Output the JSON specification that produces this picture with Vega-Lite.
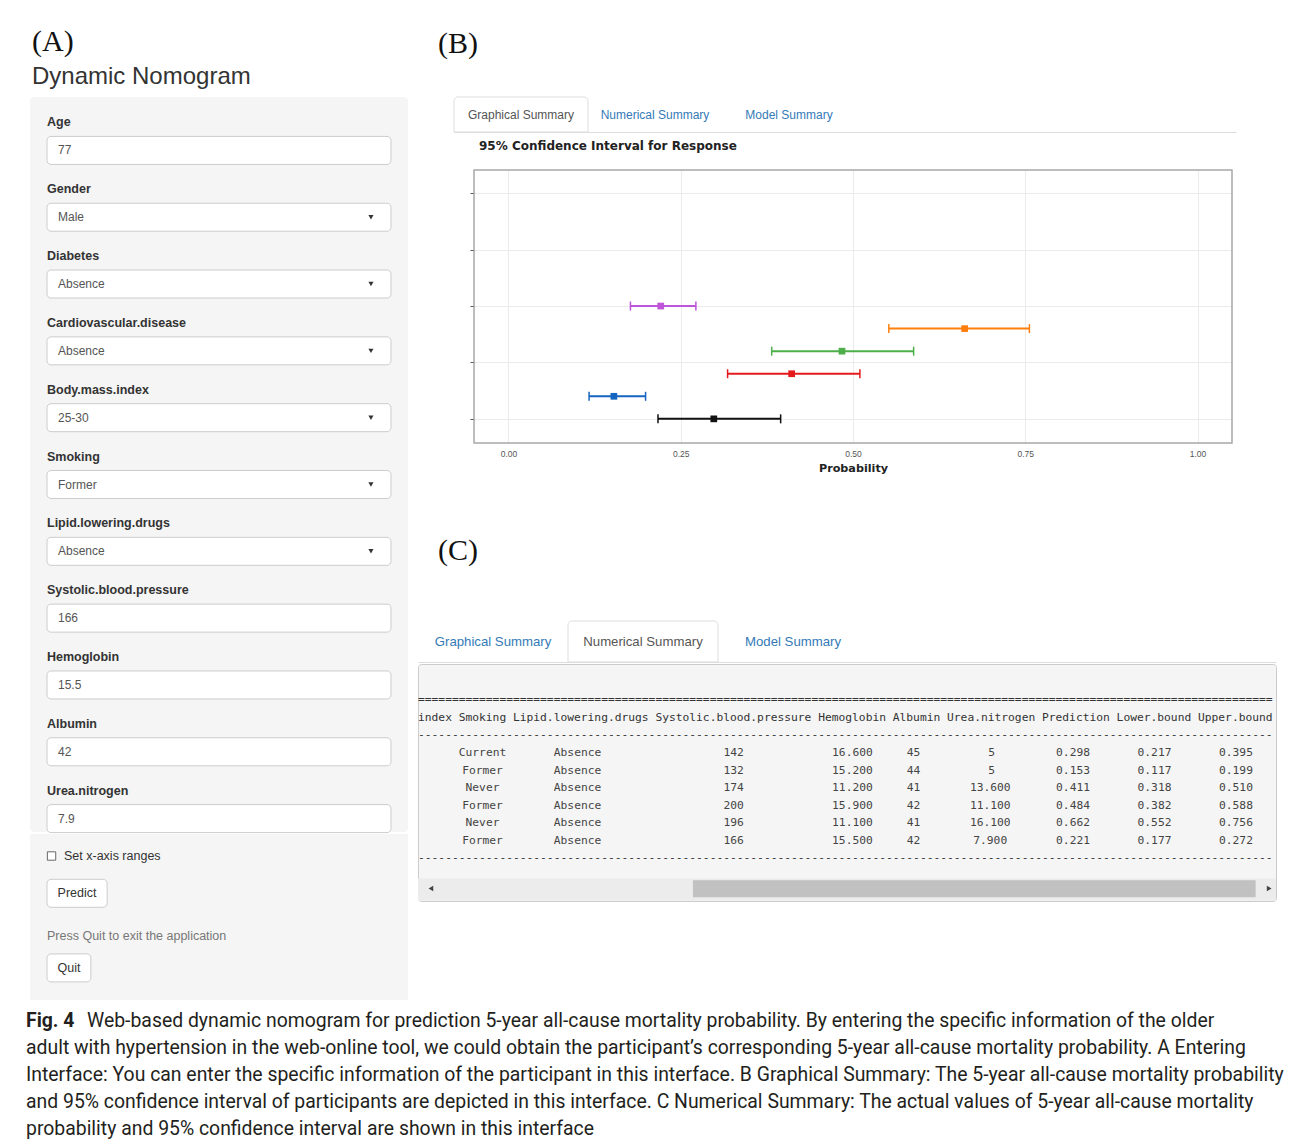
{
  "$schema": "https://vega.github.io/schema/vega-lite/v6.json",
  "background": "white",
  "padding": {"left": 26, "top": 27, "right": 0, "bottom": 0},
  "config": {
    "view": {"stroke": null},
    "text": {"font": "Liberation Sans"},
    "axis": {"labelFont": "Liberation Sans", "titleFont": "Liberation Sans"}
  },
  "datasets": {
    "pred": [
      {"index": 1, "Smoking": "Current", "Lipid": "Absence", "SBP": 142, "Hemoglobin": 16.6, "Albumin": 45, "Urea": 5, "Prediction": 0.298, "Lower": 0.217, "Upper": 0.395},
      {"index": 2, "Smoking": "Former", "Lipid": "Absence", "SBP": 132, "Hemoglobin": 15.2, "Albumin": 44, "Urea": 5, "Prediction": 0.153, "Lower": 0.117, "Upper": 0.199},
      {"index": 3, "Smoking": "Never", "Lipid": "Absence", "SBP": 174, "Hemoglobin": 11.2, "Albumin": 41, "Urea": 13.6, "Prediction": 0.411, "Lower": 0.318, "Upper": 0.510},
      {"index": 4, "Smoking": "Former", "Lipid": "Absence", "SBP": 200, "Hemoglobin": 15.9, "Albumin": 42, "Urea": 11.1, "Prediction": 0.484, "Lower": 0.382, "Upper": 0.588},
      {"index": 5, "Smoking": "Never", "Lipid": "Absence", "SBP": 196, "Hemoglobin": 11.1, "Albumin": 41, "Urea": 16.1, "Prediction": 0.662, "Lower": 0.552, "Upper": 0.756},
      {"index": 6, "Smoking": "Former", "Lipid": "Absence", "SBP": 166, "Hemoglobin": 15.5, "Albumin": 42, "Urea": 7.9, "Prediction": 0.221, "Lower": 0.177, "Upper": 0.272}
    ],
    "form": [
      {"label": "Age", "value": "77", "kind": "text"},
      {"label": "Gender", "value": "Male", "kind": "select"},
      {"label": "Diabetes", "value": "Absence", "kind": "select"},
      {"label": "Cardiovascular.disease", "value": "Absence", "kind": "select"},
      {"label": "Body.mass.index", "value": "25-30", "kind": "select"},
      {"label": "Smoking", "value": "Former", "kind": "select"},
      {"label": "Lipid.lowering.drugs", "value": "Absence", "kind": "select"},
      {"label": "Systolic.blood.pressure", "value": "166", "kind": "text"},
      {"label": "Hemoglobin", "value": "15.5", "kind": "text"},
      {"label": "Albumin", "value": "42", "kind": "text"},
      {"label": "Urea.nitrogen", "value": "7.9", "kind": "text"}
    ],
    "controls": [
      {"item": "check", "text": "Set x-axis ranges"},
      {"item": "predict", "text": "Predict"},
      {"item": "note", "text": "Press Quit to exit the application"},
      {"item": "quit", "text": "Quit"}
    ],
    "tabsB": [
      {"tab": "Graphical Summary", "active": true},
      {"tab": "Numerical Summary", "active": false},
      {"tab": "Model Summary", "active": false}
    ],
    "tabsC": [
      {"tab": "Graphical Summary", "active": false},
      {"tab": "Numerical Summary", "active": true},
      {"tab": "Model Summary", "active": false}
    ],
    "caption": [
      {"line": 1, "part": "bold", "text": "Fig. 4"},
      {"line": 1, "part": "first", "text": "Web-based dynamic nomogram for prediction 5-year all-cause mortality probability. By entering the specific information of the older"},
      {"line": 2, "part": "line", "text": "adult with hypertension in the web-online tool, we could obtain the participant’s corresponding 5-year all-cause mortality probability. A Entering"},
      {"line": 3, "part": "line", "text": "Interface: You can enter the specific information of the participant in this interface. B Graphical Summary: The 5-year all-cause mortality probability"},
      {"line": 4, "part": "line", "text": "and 95% confidence interval of participants are depicted in this interface. C Numerical Summary: The actual values of 5-year all-cause mortality"},
      {"line": 5, "part": "line", "text": "probability and 95% confidence interval are shown in this interface"}
    ]
  },
  "spacing": 8,
  "vconcat": [
    {
      "spacing": 9,
      "hconcat": [
        {
          "title": {"text": "(A)", "subtitle": "Dynamic Nomogram", "anchor": "start", "dx": 2, "font": "Liberation Serif", "fontSize": 30, "fontWeight": "normal", "color": "#111111", "subtitleFont": "Liberation Sans", "subtitleFontSize": 24, "subtitleColor": "#333333", "subtitlePadding": 8, "offset": 8},
          "spacing": 0,
          "vconcat": [
            {
              "width": 378, "height": 735,
              "view": {"fill": "#f5f5f5", "stroke": null, "cornerRadius": 4},
              "data": {"name": "form"},
              "encoding": {
                "y": {"field": "label", "type": "nominal", "sort": null, "scale": {"type": "band", "domain": ["Age", "Gender", "Diabetes", "Cardiovascular.disease", "Body.mass.index", "Smoking", "Lipid.lowering.drugs", "Systolic.blood.pressure", "Hemoglobin", "Albumin", "Urea.nitrogen"], "paddingInner": 0, "paddingOuter": 0}, "axis": null}
              },
              "layer": [
                {
                  "mark": {"type": "bar", "height": 28, "yOffset": 20, "fill": "white", "stroke": "#cccccc", "strokeWidth": 1, "cornerRadius": 4},
                  "encoding": {
                    "x": {"datum": 0.045, "type": "quantitative", "scale": {"domain": [0, 1], "nice": false, "zero": false}, "axis": null},
                    "x2": {"datum": 0.955}
                  }
                },
                {
                  "mark": {"type": "text", "align": "left", "baseline": "middle", "dy": -8, "fontWeight": "bold", "fontSize": 12.5, "color": "#333333"},
                  "encoding": {"x": {"datum": 0.045, "type": "quantitative"}, "text": {"field": "label"}}
                },
                {
                  "mark": {"type": "text", "align": "left", "baseline": "middle", "dx": 11, "dy": 20, "fontSize": 12, "color": "#555555"},
                  "encoding": {"x": {"datum": 0.045, "type": "quantitative"}, "text": {"field": "value"}}
                },
                {
                  "transform": [{"filter": "datum.kind === 'select'"}],
                  "mark": {"type": "point", "shape": "triangle-down", "filled": true, "size": 26, "color": "#333333", "opacity": 1, "yOffset": 20},
                  "encoding": {"x": {"datum": 0.902, "type": "quantitative"}}
                }
              ]
            },
            {
              "width": 378, "height": 166,
              "view": {"fill": "#f5f5f5", "stroke": null},
              "data": {"name": "controls"},
              "encoding": {
                "y": {"field": "item", "type": "nominal", "sort": null, "scale": {"type": "band", "domain": ["check", "predict", "note", "quit"], "paddingInner": 0, "paddingOuter": 0.225, "align": 0.2}, "axis": null}
              },
              "layer": [
                {
                  "transform": [{"filter": "datum.item === 'check'"}],
                  "mark": {"type": "point", "shape": "square", "size": 70, "filled": false, "fill": "white", "stroke": "#666666", "strokeWidth": 1, "opacity": 1},
                  "encoding": {"x": {"datum": 0.057, "type": "quantitative", "scale": {"domain": [0, 1], "nice": false, "zero": false}, "axis": null}}
                },
                {
                  "transform": [{"filter": "datum.item === 'check'"}],
                  "mark": {"type": "text", "align": "left", "baseline": "middle", "fontSize": 12.5, "color": "#333333"},
                  "encoding": {"x": {"datum": 0.09, "type": "quantitative"}, "text": {"field": "text"}}
                },
                {
                  "transform": [{"filter": "datum.item === 'predict'"}],
                  "mark": {"type": "bar", "height": 28, "fill": "white", "stroke": "#cccccc", "strokeWidth": 1, "cornerRadius": 4},
                  "encoding": {"x": {"datum": 0.045, "type": "quantitative"}, "x2": {"datum": 0.204}}
                },
                {
                  "transform": [{"filter": "datum.item === 'predict'"}],
                  "mark": {"type": "text", "align": "center", "baseline": "middle", "fontSize": 12.5, "color": "#333333"},
                  "encoding": {"x": {"datum": 0.1245, "type": "quantitative"}, "text": {"field": "text"}}
                },
                {
                  "transform": [{"filter": "datum.item === 'note'"}],
                  "mark": {"type": "text", "align": "left", "baseline": "middle", "dy": 5, "fontSize": 12.5, "color": "#777777"},
                  "encoding": {"x": {"datum": 0.045, "type": "quantitative"}, "text": {"field": "text"}}
                },
                {
                  "transform": [{"filter": "datum.item === 'quit'"}],
                  "mark": {"type": "bar", "height": 28, "fill": "white", "stroke": "#cccccc", "strokeWidth": 1, "cornerRadius": 4},
                  "encoding": {"x": {"datum": 0.045, "type": "quantitative"}, "x2": {"datum": 0.161}}
                },
                {
                  "transform": [{"filter": "datum.item === 'quit'"}],
                  "mark": {"type": "text", "align": "center", "baseline": "middle", "fontSize": 12.5, "color": "#333333"},
                  "encoding": {"x": {"datum": 0.103, "type": "quantitative"}, "text": {"field": "text"}}
                }
              ]
            }
          ]
        },
        {
          "spacing": 61,
          "vconcat": [
            {
              "spacing": 7,
              "vconcat": [
                {
                  "width": 858, "height": 35,
                  "title": {"text": "(B)", "anchor": "start", "dx": 20, "font": "Liberation Serif", "fontSize": 30, "fontWeight": "normal", "color": "#111111", "offset": 38},
                  "data": {"name": "tabsB"},
                  "encoding": {
                    "x": {"field": "tab", "type": "nominal", "sort": null, "scale": {"type": "band", "domain": ["Graphical Summary", "Numerical Summary", "Model Summary", ""], "range": [36, 818], "paddingInner": 0, "paddingOuter": 0.918, "align": 0}, "axis": {"labels": false, "ticks": false, "title": null, "grid": false, "domainColor": "#dddddd", "domainWidth": 1}}
                  },
                  "layer": [
                    {
                      "transform": [{"filter": "datum.active"}],
                      "mark": {"type": "rect", "fill": "white", "stroke": "#dddddd", "strokeWidth": 1, "cornerRadiusTopLeft": 4, "cornerRadiusTopRight": 4}
                    },
                    {
                      "mark": {"type": "text", "fontSize": 12, "baseline": "middle"},
                      "encoding": {
                        "text": {"field": "tab"},
                        "color": {"condition": {"test": "datum.active", "value": "#555555"}, "value": "#337ab7"}
                      }
                    }
                  ]
                },
                {
                  "width": 858, "height": 273,
                  "title": {"text": "95% Confidence Interval for Response", "anchor": "start", "frame": "group", "dx": 61, "font": "DejaVu Sans", "fontSize": 12, "fontWeight": "bold", "color": "#222222", "offset": 16},
                  "data": {"name": "pred"},
                  "encoding": {
                    "y": {"field": "index", "type": "quantitative", "scale": {"domain": [-0.07, 12.03], "nice": false, "zero": false}, "axis": {"values": [1, 3.5, 6, 8.5, 11], "labels": false, "title": null, "domain": false, "tickSize": 4, "tickColor": "#555555", "gridColor": "#ebebeb", "offset": -56}}
                  },
                  "layer": [
                    {
                      "mark": {"type": "rule", "strokeWidth": 2},
                      "encoding": {
                        "x": {"field": "Lower", "type": "quantitative", "scale": {"domain": [-0.05, 1.05], "range": [56, 814], "nice": false, "zero": false}, "axis": {"values": [0, 0.25, 0.5, 0.75, 1], "format": ".2f", "title": "Probability", "titleFont": "DejaVu Sans", "titleFontSize": 11.2, "titleFontWeight": "bold", "titleColor": "#222222", "titlePadding": 5, "labelFontSize": 8.5, "labelColor": "#555555", "labelPadding": 6, "ticks": false, "domain": false, "grid": true, "gridColor": "#ebebeb"}},
                        "x2": {"field": "Upper"},
                        "color": {"field": "index", "type": "nominal", "scale": {"domain": [1, 2, 3, 4, 5, 6], "range": ["#111111", "#1565c0", "#e41a1c", "#4daf4a", "#ff7f0e", "#bf55d8"]}, "legend": null}
                      }
                    },
                    {
                      "mark": {"type": "tick", "orient": "vertical", "size": 9, "thickness": 1.5, "opacity": 1},
                      "encoding": {"x": {"field": "Lower", "type": "quantitative"}, "color": {"field": "index", "type": "nominal"}}
                    },
                    {
                      "mark": {"type": "tick", "orient": "vertical", "size": 9, "thickness": 1.5, "opacity": 1},
                      "encoding": {"x": {"field": "Upper", "type": "quantitative"}, "color": {"field": "index", "type": "nominal"}}
                    },
                    {
                      "mark": {"type": "point", "shape": "square", "filled": true, "size": 45, "opacity": 1},
                      "encoding": {"x": {"field": "Prediction", "type": "quantitative"}, "color": {"field": "index", "type": "nominal"}}
                    },
                    {
                      "transform": [{"filter": "datum.index === 1"}],
                      "mark": {"type": "rect", "fill": "transparent", "stroke": "#a8a8a8", "strokeWidth": 1.5},
                      "encoding": {"x": {"datum": -0.05, "type": "quantitative"}, "x2": {"datum": 1.05}, "y": {"datum": -0.07, "type": "quantitative"}, "y2": {"datum": 12.03}}
                    }
                  ]
                }
              ]
            },
            {
              "spacing": 0,
              "vconcat": [
                {
                  "width": 858, "height": 41,
                  "title": {"text": "(C)", "anchor": "start", "dx": 20, "font": "Liberation Serif", "fontSize": 30, "fontWeight": "normal", "color": "#111111", "offset": 55},
                  "data": {"name": "tabsC"},
                  "encoding": {
                    "x": {"field": "tab", "type": "nominal", "sort": null, "scale": {"type": "band", "domain": ["Graphical Summary", "Numerical Summary", "Model Summary", ""], "paddingInner": 0, "paddingOuter": 0.86, "align": 0}, "axis": {"labels": false, "ticks": false, "title": null, "grid": false, "domainColor": "#dddddd", "domainWidth": 1}}
                  },
                  "layer": [
                    {
                      "transform": [{"filter": "datum.active"}],
                      "mark": {"type": "rect", "fill": "white", "stroke": "#dddddd", "strokeWidth": 1, "cornerRadiusTopLeft": 4, "cornerRadiusTopRight": 4}
                    },
                    {
                      "mark": {"type": "text", "fontSize": 13.2, "baseline": "middle"},
                      "encoding": {
                        "text": {"field": "tab"},
                        "color": {"condition": {"test": "datum.active", "value": "#555555"}, "value": "#337ab7"}
                      }
                    }
                  ]
                },
                {
                  "width": 858, "height": 237,
                  "view": {"fill": "#f5f5f5", "stroke": "#cccccc", "cornerRadius": 3},
                  "layer": [
                    {
                      "data": {"values": [{"part": "track"}]},
                      "mark": {"type": "rect", "fill": "#ececec"},
                      "encoding": {
                        "x": {"datum": 0, "type": "quantitative", "scale": {"domain": [0, 126.4], "nice": false, "zero": false}, "axis": null},
                        "x2": {"datum": 126.4},
                        "y": {"datum": 8.15, "type": "quantitative", "scale": {"domain": [-4.07, 9.43], "reverse": true, "nice": false, "zero": false}, "axis": null},
                        "y2": {"datum": 9.4}
                      }
                    },
                    {
                      "data": {"values": [{"part": "thumb"}]},
                      "mark": {"type": "rect", "fill": "#c1c1c1"},
                      "encoding": {"x": {"datum": 40.5, "type": "quantitative"}, "x2": {"datum": 123.4}, "y": {"datum": 8.25, "type": "quantitative"}, "y2": {"datum": 9.22}}
                    },
                    {
                      "data": {"values": [{"part": "left"}]},
                      "mark": {"type": "point", "shape": "triangle-left", "filled": true, "size": 30, "color": "#444444", "opacity": 1},
                      "encoding": {"x": {"datum": 1.9, "type": "quantitative"}, "y": {"datum": 8.72, "type": "quantitative"}}
                    },
                    {
                      "data": {"values": [{"part": "right"}]},
                      "mark": {"type": "point", "shape": "triangle-right", "filled": true, "size": 30, "color": "#444444", "opacity": 1},
                      "encoding": {"x": {"datum": 125.4, "type": "quantitative"}, "y": {"datum": 8.72, "type": "quantitative"}}
                    },
                    {
                      "data": {"values": [{"t": "=============================================================================================================================="}]},
                      "mark": {"type": "text", "align": "left", "baseline": "middle", "font": "DejaVu Sans Mono", "fontSize": 11.27, "color": "#333333"},
                      "encoding": {"x": {"datum": 0, "type": "quantitative"}, "y": {"datum": -2, "type": "quantitative"}, "text": {"field": "t"}}
                    },
                    {
                      "data": {"values": [{"t": "index Smoking Lipid.lowering.drugs Systolic.blood.pressure Hemoglobin Albumin Urea.nitrogen Prediction Lower.bound Upper.bound"}]},
                      "mark": {"type": "text", "align": "left", "baseline": "middle", "font": "DejaVu Sans Mono", "fontSize": 11.27, "color": "#333333"},
                      "encoding": {"x": {"datum": 0, "type": "quantitative"}, "y": {"datum": -1, "type": "quantitative"}, "text": {"field": "t"}}
                    },
                    {
                      "data": {"values": [{"t": "------------------------------------------------------------------------------------------------------------------------------", "k": 0}, {"t": "------------------------------------------------------------------------------------------------------------------------------", "k": 7}]},
                      "mark": {"type": "text", "align": "left", "baseline": "middle", "font": "DejaVu Sans Mono", "fontSize": 11.27, "color": "#333333"},
                      "encoding": {"x": {"datum": 0, "type": "quantitative"}, "y": {"field": "k", "type": "quantitative"}, "text": {"field": "t"}}
                    },
                    {
                      "data": {"name": "pred"},
                      "mark": {"type": "text", "align": "center", "baseline": "middle", "font": "DejaVu Sans Mono", "fontSize": 11.27, "color": "#444444"},
                      "encoding": {"x": {"datum": 9.5, "type": "quantitative"}, "y": {"field": "index", "type": "quantitative"}, "text": {"field": "Smoking"}}
                    },
                    {
                      "data": {"name": "pred"},
                      "mark": {"type": "text", "align": "center", "baseline": "middle", "font": "DejaVu Sans Mono", "fontSize": 11.27, "color": "#444444"},
                      "encoding": {"x": {"datum": 23.5, "type": "quantitative"}, "y": {"field": "index", "type": "quantitative"}, "text": {"field": "Lipid"}}
                    },
                    {
                      "data": {"name": "pred"},
                      "mark": {"type": "text", "align": "center", "baseline": "middle", "font": "DejaVu Sans Mono", "fontSize": 11.27, "color": "#444444"},
                      "encoding": {"x": {"datum": 46.5, "type": "quantitative"}, "y": {"field": "index", "type": "quantitative"}, "text": {"field": "SBP", "type": "quantitative", "format": "d"}}
                    },
                    {
                      "data": {"name": "pred"},
                      "mark": {"type": "text", "align": "center", "baseline": "middle", "font": "DejaVu Sans Mono", "fontSize": 11.27, "color": "#444444"},
                      "encoding": {"x": {"datum": 64, "type": "quantitative"}, "y": {"field": "index", "type": "quantitative"}, "text": {"field": "Hemoglobin", "type": "quantitative", "format": ".3f"}}
                    },
                    {
                      "data": {"name": "pred"},
                      "mark": {"type": "text", "align": "center", "baseline": "middle", "font": "DejaVu Sans Mono", "fontSize": 11.27, "color": "#444444"},
                      "encoding": {"x": {"datum": 73, "type": "quantitative"}, "y": {"field": "index", "type": "quantitative"}, "text": {"field": "Albumin", "type": "quantitative", "format": "d"}}
                    },
                    {
                      "data": {"name": "pred"},
                      "transform": [{"filter": "datum.Urea % 1 === 0"}],
                      "mark": {"type": "text", "align": "center", "baseline": "middle", "font": "DejaVu Sans Mono", "fontSize": 11.27, "color": "#444444"},
                      "encoding": {"x": {"datum": 84.5, "type": "quantitative"}, "y": {"field": "index", "type": "quantitative"}, "text": {"field": "Urea", "type": "quantitative", "format": "d"}}
                    },
                    {
                      "data": {"name": "pred"},
                      "transform": [{"filter": "datum.Urea % 1 !== 0"}],
                      "mark": {"type": "text", "align": "center", "baseline": "middle", "font": "DejaVu Sans Mono", "fontSize": 11.27, "color": "#444444"},
                      "encoding": {"x": {"datum": 84.3, "type": "quantitative"}, "y": {"field": "index", "type": "quantitative"}, "text": {"field": "Urea", "type": "quantitative", "format": ".3f"}}
                    },
                    {
                      "data": {"name": "pred"},
                      "mark": {"type": "text", "align": "center", "baseline": "middle", "font": "DejaVu Sans Mono", "fontSize": 11.27, "color": "#444444"},
                      "encoding": {"x": {"datum": 96.5, "type": "quantitative"}, "y": {"field": "index", "type": "quantitative"}, "text": {"field": "Prediction", "type": "quantitative", "format": ".3f"}}
                    },
                    {
                      "data": {"name": "pred"},
                      "mark": {"type": "text", "align": "center", "baseline": "middle", "font": "DejaVu Sans Mono", "fontSize": 11.27, "color": "#444444"},
                      "encoding": {"x": {"datum": 108.5, "type": "quantitative"}, "y": {"field": "index", "type": "quantitative"}, "text": {"field": "Lower", "type": "quantitative", "format": ".3f"}}
                    },
                    {
                      "data": {"name": "pred"},
                      "mark": {"type": "text", "align": "center", "baseline": "middle", "font": "DejaVu Sans Mono", "fontSize": 11.27, "color": "#444444"},
                      "encoding": {"x": {"datum": 120.5, "type": "quantitative"}, "y": {"field": "index", "type": "quantitative"}, "text": {"field": "Upper", "type": "quantitative", "format": ".3f"}}
                    }
                  ]
                }
              ]
            }
          ]
        }
      ]
    },
    {
      "width": 1244, "height": 134,
      "data": {"name": "caption"},
      "encoding": {
        "y": {"field": "line", "type": "ordinal", "scale": {"type": "band", "paddingInner": 0, "paddingOuter": 0}, "axis": null}
      },
      "layer": [
        {
          "transform": [{"filter": "datum.part === 'bold'"}],
          "mark": {"type": "text", "align": "left", "baseline": "middle", "dx": -4, "font": "Roboto", "fontSize": 19.4, "fontWeight": "bold", "color": "#231f20"},
          "encoding": {"x": {"datum": 0, "type": "quantitative", "scale": {"domain": [0, 1], "nice": false, "zero": false}, "axis": null}, "text": {"field": "text"}}
        },
        {
          "transform": [{"filter": "datum.part === 'first'"}],
          "mark": {"type": "text", "align": "left", "baseline": "middle", "dx": 57, "font": "Roboto", "fontSize": 19.4, "color": "#231f20"},
          "encoding": {"x": {"datum": 0, "type": "quantitative"}, "text": {"field": "text"}}
        },
        {
          "transform": [{"filter": "datum.part === 'line'"}],
          "mark": {"type": "text", "align": "left", "baseline": "middle", "dx": -4, "font": "Roboto", "fontSize": 19.4, "color": "#231f20"},
          "encoding": {"x": {"datum": 0, "type": "quantitative"}, "text": {"field": "text"}}
        }
      ]
    }
  ]
}
